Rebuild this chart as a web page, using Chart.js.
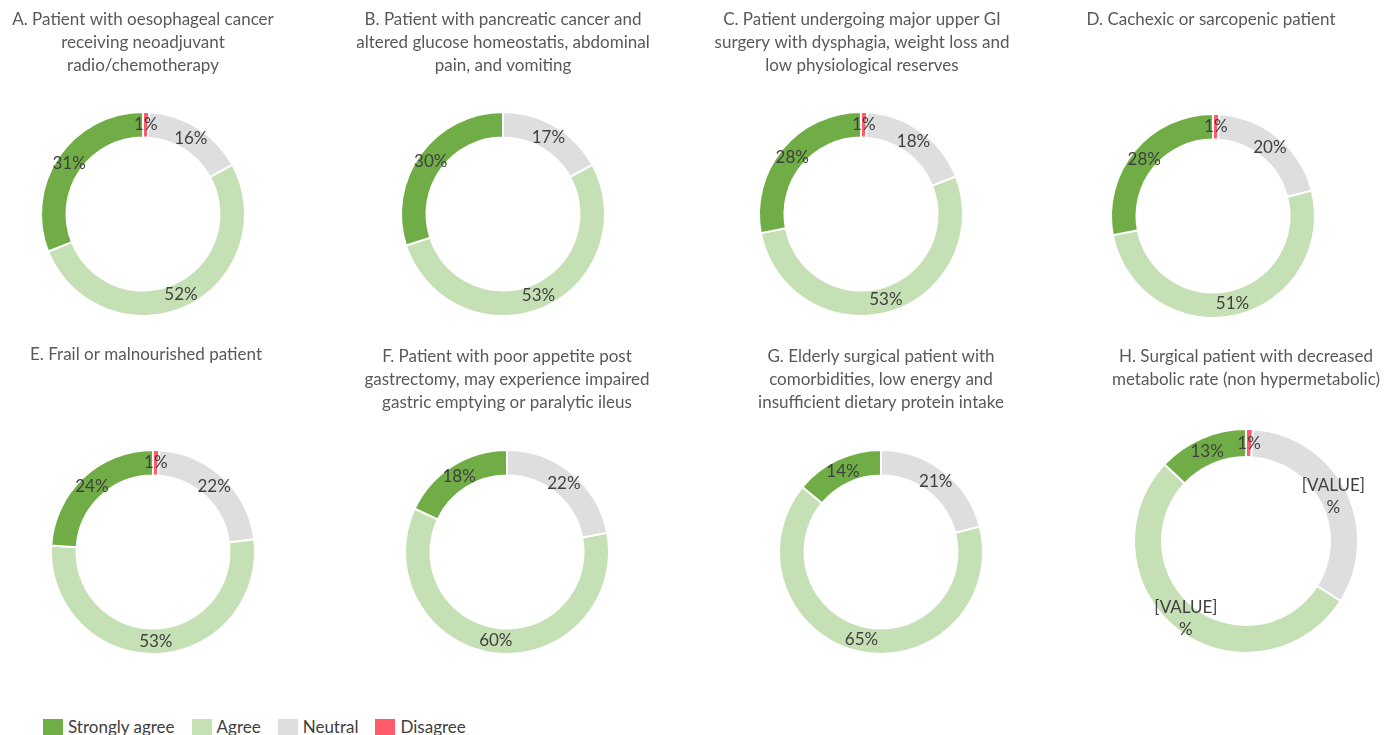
<!DOCTYPE html>
<html>
<head>
<meta charset="utf-8">
<script src="https://cdn.jsdelivr.net/npm/chart.js"></script>
<style>
    body {
        margin: 0;
        background: #fff;
        width: 1385px;
        height: 735px;
        overflow: hidden;
        position: relative;
        font-family: Lato, 'Open Sans', sans-serif;
    }
    .panel {
        position: absolute;
    }
    #legend {
        position: absolute;
        left: 43px;
        top: 716px;
        display: flex;
        align-items: center;
        font-size: 17px;
        color: #404040;
    }
    .legend-item {
        display: flex;
        align-items: center;
        margin-right: 17px;
    }
    .legend-box {
        width: 20px;
        height: 16px;
        margin-right: 5px;
    }
</style>
</head>
<body>
<div id="legend"></div>

<script>
const categories = ['Strongly agree', 'Agree', 'Neutral', 'Disagree'];
const categoryColors = ['#70AD47', '#C5E0B4', '#DEDEDE', '#FF5B6B'];

const panelTitles = [
    ['A. Patient with oesophageal cancer', 'receiving neoadjuvant', 'radio/chemotherapy'],
    ['B. Patient with pancreatic cancer and', 'altered glucose homeostatis, abdominal', 'pain, and vomiting'],
    ['C. Patient undergoing major upper GI', 'surgery with dysphagia, weight loss and', 'low physiological reserves'],
    ['D. Cachexic or sarcopenic patient'],
    ['E. Frail or malnourished patient'],
    ['F. Patient with poor appetite post', 'gastrectomy, may experience impaired', 'gastric emptying or paralytic ileus'],
    ['G. Elderly surgical patient with', 'comorbidities, low energy and', 'insufficient dietary protein intake'],
    ['H. Surgical patient with decreased', 'metabolic rate (non hypermetabolic)']
];

// percentages per panel A..H
const stronglyAgree = [31, 30, 28, 28, 24, 18, 14, 13];
const agree = [52, 53, 53, 51, 53, 60, 65, 53];
const neutral = [16, 17, 18, 20, 22, 22, 21, 33];
const disagree = [1, 0, 1, 1, 1, 0, 0, 1];

// panel H shows unfilled Excel placeholders for two labels
const labelOverrides = {
    7: { 'Agree': '[VALUE]\n%', 'Neutral': '[VALUE]\n%' }
};

// layout: donut centre, radius, title centre line
const panelLayout = [
    { cx: 143, cy: 214, r: 101, top: 0, titleX: 143, titleY: 20 },
    { cx: 503, cy: 214, r: 101, top: 0, titleX: 503, titleY: 20 },
    { cx: 861, cy: 214, r: 101, top: 0, titleX: 862, titleY: 20 },
    { cx: 1213, cy: 216, r: 101, top: 0, titleX: 1211, titleY: 20 },
    { cx: 153, cy: 552, r: 101, top: 330, titleX: 146, titleY: 355 },
    { cx: 507, cy: 552, r: 101, top: 330, titleX: 507, titleY: 357 },
    { cx: 881, cy: 552, r: 101, top: 330, titleX: 881, titleY: 357 },
    { cx: 1246, cy: 541, r: 111, top: 330, titleX: 1246, titleY: 357 }
];

const TITLE_LINE = 23;
const PANEL_W = 360;

const valueLabelPlugin = {
    id: 'valueLabels',
    afterDatasetsDraw(chart) {
        const ctx = chart.ctx;
        const meta = chart.getDatasetMeta(0);
        const data = chart.data.datasets[0].data;
        const texts = chart.data.datasets[0].labelTexts;

        ctx.save();
        ctx.font = '17px Lato, sans-serif';
        ctx.fillStyle = '#404040';
        ctx.textAlign = 'center';
        ctx.textBaseline = 'middle';

        meta.data.forEach((arc, i) => {
            if (!data[i]) return;
            const pos = arc.tooltipPosition();
            const lines = texts[i].split('\n');
            const lh = 22;
            const startY = pos.y - (lines.length - 1) * lh / 2;
            lines.forEach((line, j) => {
                ctx.fillText(line, pos.x, startY + j * lh);
            });
        });
        ctx.restore();
    }
};

function buildPanel(idx) {
    const lay = panelLayout[idx];
    const title = panelTitles[idx];

    // clockwise from 12 o'clock: Disagree, Neutral, Agree, Strongly agree
    const values = [stronglyAgree[idx], agree[idx], neutral[idx], disagree[idx]];
    const order = [3, 2, 1, 0];
    const overrides = labelOverrides[idx] || {};

    const labels = order.map(k => categories[k]);
    const data = order.map(k => values[k]);
    const colors = order.map(k => categoryColors[k]);
    const labelTexts = order.map(k => overrides[categories[k]] || (values[k] + '%'));

    const canvasH = lay.cy + lay.r + 8 - lay.top;
    const padTop = lay.titleY - TITLE_LINE / 2 - lay.top;
    const donutTop = lay.cy - lay.r - 2 - lay.top;
    const padBottom = donutTop - padTop - title.length * TITLE_LINE;
    const areaH = 2 * lay.r + 4;

    const wrap = document.createElement('div');
    wrap.className = 'panel';
    wrap.style.left = (lay.cx - PANEL_W / 2) + 'px';
    wrap.style.top = lay.top + 'px';
    wrap.style.width = PANEL_W + 'px';
    wrap.style.height = canvasH + 'px';

    const canvas = document.createElement('canvas');
    wrap.appendChild(canvas);
    document.body.appendChild(wrap);

    new Chart(canvas, {
        type: 'doughnut',
        data: {
            labels: labels,
            datasets: [{
                data: data,
                labelTexts: labelTexts,
                backgroundColor: colors,
                borderColor: '#ffffff',
                borderWidth: 2,
                hoverOffset: 0
            }]
        },
        options: {
            responsive: true,
            maintainAspectRatio: false,
            animation: false,
            cutout: '75%',
            layout: {
                padding: { top: 0, bottom: canvasH - donutTop - areaH, left: 0, right: 0 }
            },
            plugins: {
                legend: { display: false },
                tooltip: { enabled: false },
                title: {
                    display: true,
                    text: title,
                    color: '#595959',
                    align: 'center',
                    font: { family: 'Lato, sans-serif', size: 17, weight: 'normal', lineHeight: TITLE_LINE / 17 },
                    padding: { top: padTop, bottom: padBottom }
                }
            }
        },
        plugins: [valueLabelPlugin, {
            id: 'titleShift',
            beforeDraw(chart) {
                // title centre can sit a few px off the donut centre
                const t = chart.titleBlock;
                const dx = lay.titleX - lay.cx;
                if (t && !t._shifted) {
                    t.left += dx;
                    t.right += dx;
                    t._shifted = true;
                }
            }
        }]
    });
}

function buildLegend() {
    const legend = document.getElementById('legend');
    categories.forEach((name, i) => {
        const item = document.createElement('div');
        item.className = 'legend-item';
        const box = document.createElement('span');
        box.className = 'legend-box';
        box.style.background = categoryColors[i];
        const text = document.createElement('span');
        text.textContent = name;
        item.appendChild(box);
        item.appendChild(text);
        legend.appendChild(item);
    });
}

panelTitles.forEach((t, i) => buildPanel(i));
buildLegend();
</script>
</body>
</html>
